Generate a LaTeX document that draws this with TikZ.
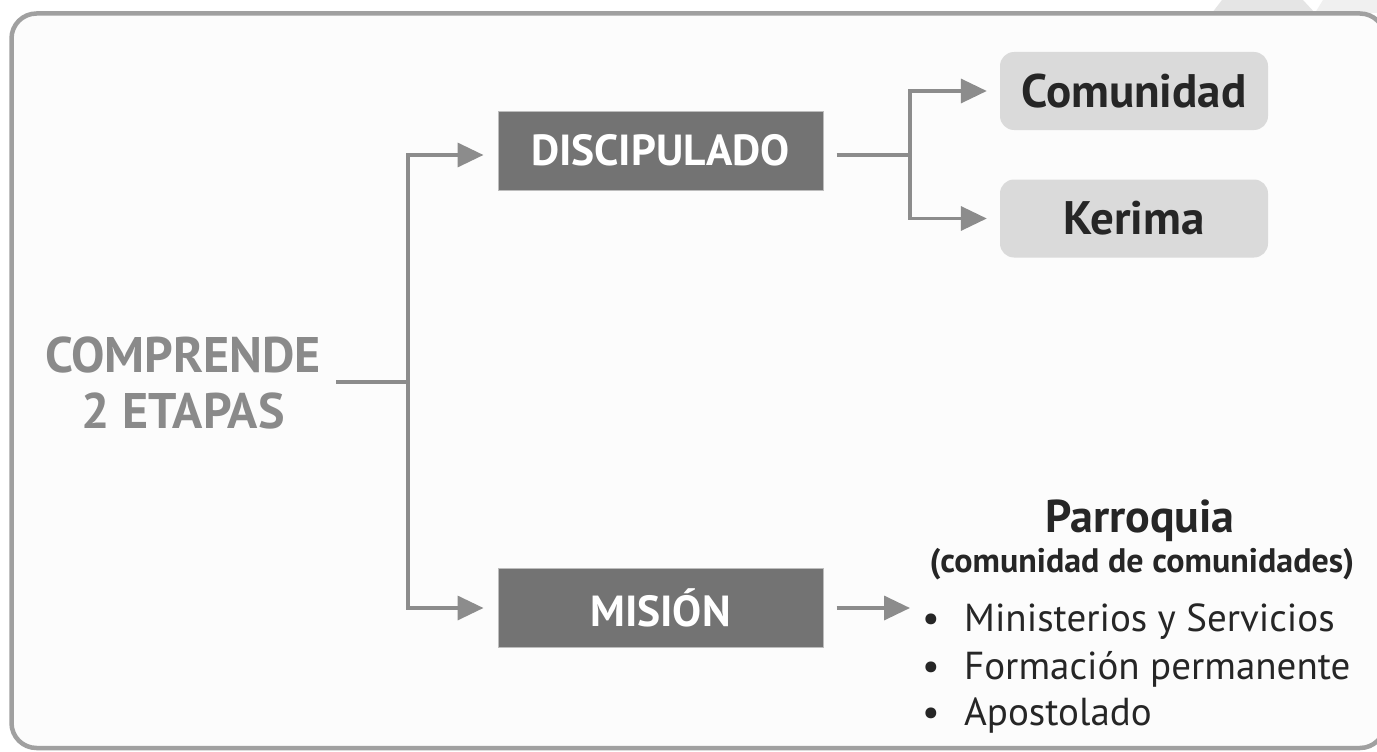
\documentclass[tikz,border=0pt]{standalone}
\usepackage{fontspec}
\setmainfont{PT Sans}
\usetikzlibrary{arrows.meta}
\definecolor{framegray}{HTML}{A0A0A0}
\definecolor{linegray}{HTML}{8C8C8C}
\definecolor{boxdark}{HTML}{737373}
\definecolor{boxedge}{HTML}{BDBDBD}
\definecolor{boxlight}{HTML}{DADADA}
\definecolor{textdark}{HTML}{262626}
\definecolor{textgray}{HTML}{8A8A8A}
\definecolor{diamA}{HTML}{E5E5E5}
\definecolor{diamB}{HTML}{F0F0F0}
\tikzset{
  darkbox/.style={fill=boxdark, draw=boxedge, line width=1pt, minimum width=325pt, minimum height=79pt, inner sep=0pt, text=white, font=\bfseries\fontsize{43.5}{50}\selectfont},
  lightbox/.style={fill=boxlight, rounded corners=14pt, minimum width=268pt, minimum height=78pt, inner sep=0pt, text=textdark, font=\bfseries\fontsize{47}{54}\selectfont},
  conn/.style={draw=linegray, line width=3.5pt},
  arr/.style={conn, -{Triangle[length=26pt,width=24pt]}},
  itemtext/.style={anchor=base west, inner sep=0pt, text=textdark, font=\fontsize{39}{46}\selectfont},
}
\begin{document}
\begin{tikzpicture}[x=1pt,y=-1pt]
\useasboundingbox (0,0) rectangle (1377,752);
\fill[white] (0,0) rectangle (1377,752);
% background diamonds peeking above the frame
\fill[diamA] (1212,13) -- (1222,0) -- (1303,0) -- (1315,13) -- cycle;
\fill[diamB] (1315,13) -- (1323,0) -- (1377,0) -- (1377,13) -- cycle;
% frame
\fill[white!99!black, rounded corners=25pt] (11.5,13.5) rectangle (1385,748);
\draw[framegray, line width=4.5pt, rounded corners=25pt] (11.5,13.5) rectangle (1385,748);

% nodes
\node[align=center, inner sep=0pt, text=textgray, font=\bfseries\fontsize{50}{56}\selectfont] (comp) at (183,383) {COMPRENDE\\2 ETAPAS};
\node[darkbox] (disc) at (660.5,150.5) {DISCIPULADO};
\node[darkbox] (misn) at (660.5,608) {MISIÓN};
\node[lightbox] (com) at (1134,91) {Comunidad};
\node[lightbox] (ker) at (1134,218.5) {Kerima};
\node[anchor=base, inner sep=0pt, text=textdark, font=\bfseries\fontsize{46}{52}\selectfont] (par) at (1140,532) {Parroquia};
\node[anchor=base, inner sep=0pt, text=textdark, font=\bfseries\fontsize{34}{40}\selectfont] (sub) at (1142,572) {(comunidad de comunidades)};
\node[itemtext] (i1) at (922,631) {\makebox[42pt][l]{•}Ministerios y Servicios};
\node[itemtext] (i2) at (922,679) {\makebox[42pt][l]{•}Formación permanente};
\node[itemtext] (i3) at (922,725) {\makebox[42pt][l]{•}Apostolado};

% junctions
\coordinate (j1) at (408,382);
\coordinate (j2) at (910,155);

% connectors
\draw[conn, shorten <=15pt] (comp.east |- j1) -- (j1);
\draw[arr, shorten >=14pt] (j1) |- ([yshift=-4.5pt]disc.west);
\draw[arr, shorten >=14pt] (j1) |- (misn.west);
\draw[conn, shorten <=13pt] ([yshift=-4.5pt]disc.east) -- (j2);
\draw[arr, shorten >=13pt] (j2) |- (com.west);
\draw[arr, shorten >=13pt] (j2) |- (ker.west);
\draw[arr, shorten <=13pt, shorten >=12pt] (misn.east) -- (misn.east -| i1.west);
\end{tikzpicture}
\end{document}
